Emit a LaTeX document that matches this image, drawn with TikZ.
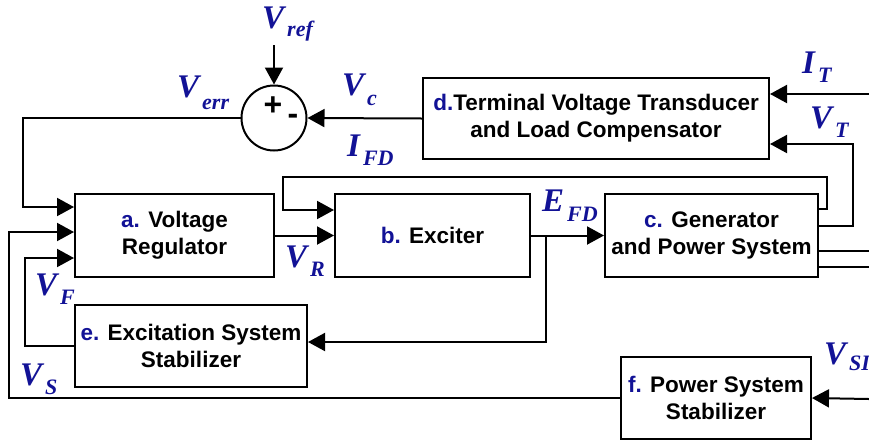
\documentclass[tikz,border=0pt]{standalone}
\usepackage{fontspec}
\newfontfamily\boxfont{Liberation Sans}
\newfontfamily\lblfont{Liberation Serif}
\usetikzlibrary{arrows.meta, positioning}
\definecolor{lblblue}{RGB}{18,18,150}
% big letter with lowered subscript
\newcommand{\sigl}[3][9pt]{{\fontsize{33}{33}\selectfont #2}\kern3pt\raisebox{-#1}{\fontsize{22}{22}\selectfont #3}}
\tikzset{
  block/.style={draw, line width=2pt, align=center, inner sep=2pt,
    font=\boxfont\bfseries\fontsize{22.5}{27}\selectfont},
  sig/.style={line width=2pt, -{Triangle[length=17pt,width=18pt]}},
  wire/.style={line width=2pt},
  siglbl/.style={anchor=base west, inner sep=0pt, text=lblblue,
    font=\lblfont\bfseries\itshape},
}
\begin{document}
\begin{tikzpicture}[x=1pt, y=-1pt]
  \useasboundingbox (0,0) rectangle (869,445);
  % Blocks
  \node[block, minimum width=199pt, minimum height=83pt] (reg) at (174.5,235.5)
    {\textcolor{lblblue}{a.} Voltage\\Regulator};
  \node[block, minimum width=195pt, minimum height=83pt] (exc) at (432.5,235.5)
    {\textcolor{lblblue}{b.} Exciter};
  \node[block, minimum width=213pt, minimum height=83pt] (gen) at (711.5,235.5)
    {\textcolor{lblblue}{c.} Generator\\and Power System};
  \node[block, minimum width=346pt, minimum height=81pt] (tvt) at (596,118.5)
    {\textcolor{lblblue}{d.}Terminal Voltage Transducer\\and Load Compensator};
  \node[block, minimum width=232pt, minimum height=82pt] (ess) at (191,346)
    {\textcolor{lblblue}{e.} Excitation System\\Stabilizer};
  \node[block, minimum width=190pt, minimum height=82pt] (pss) at (716,398)
    {\textcolor{lblblue}{f.} Power System\\Stabilizer};
  % Summing junction
  \node[draw, circle, line width=2pt, minimum size=65pt, inner sep=0pt] (sum) at (274,118) {};
  \node[inner sep=0pt, font=\boxfont\bfseries\fontsize{32}{32}\selectfont] (plus) at (273,106) {+};
  \node[inner sep=0pt, font=\boxfont\bfseries\fontsize{32}{32}\selectfont] (minus) at (293,119) {-};
  % Free ends
  \coordinate (refIn) at (274,45);
  \coordinate (itIn) at (869,94);
  \coordinate (vsiIn) at (869,399);
  \coordinate (ifdR) at (827,177);
  \coordinate (ifdL) at (283,177);
  \coordinate (efdTap) at (546,235.5);
  % Connectors
  \draw[sig] (refIn) -- (sum.north);
  \draw[sig] (tvt.west) -- (sum.east);
  \draw[sig] (sum.west) -| ([xshift=-51pt,yshift=28.5pt]reg.west) -- ([yshift=28.5pt]reg.west);
  \draw[sig] (pss.west) -| ([xshift=-65pt,yshift=3.5pt]reg.west) -- ([yshift=3.5pt]reg.west);
  \draw[sig] (ess.west) -| ([xshift=-49pt,yshift=-22.5pt]reg.west) -- ([yshift=-22.5pt]reg.west);
  \draw[sig] (reg.east) -- (exc.west);
  \draw[sig] ([yshift=26.5pt]gen.east) -| (ifdR) -- (ifdL) |- ([yshift=25.5pt]exc.west);
  \draw[sig] (exc.east) -- (gen.west);
  \draw[sig] (efdTap) |- ([yshift=4pt]ess.east);
  \draw[sig] ([yshift=9.5pt]gen.east) -| ([xshift=83pt,yshift=-25.5pt]tvt.east) -- ([yshift=-25.5pt]tvt.east);
  \draw[sig] (itIn) -- ([yshift=24.5pt]tvt.east);
  \draw[wire] ([yshift=-15.5pt]gen.east) -- ++(51,0);
  \draw[wire] ([yshift=-31.5pt]gen.east) -- ++(51,0);
  \draw[sig] (vsiIn) -- (pss.east);
  % Signal labels
  \node[siglbl] (lref) at (262,28) {\sigl[8pt]{V}{ref}};
  \node[siglbl] (lerr) at (177,97) {\sigl[12pt]{V}{err}};
  \node[siglbl] (lc) at (342,95) {\sigl[10pt]{V}{c}};
  \node[siglbl] (lifd) at (347,156) {\sigl{I}{FD}};
  \node[siglbl] (lit) at (802,73) {\sigl{I}{T}};
  \node[siglbl] (lvt) at (810,128) {\sigl{V}{T}};
  \node[siglbl] (lefd) at (542,211) {\sigl[10pt]{E}{FD}};
  \node[siglbl] (lvr) at (285,267) {\sigl{V}{R}};
  \node[siglbl] (lvf) at (35,295) {\sigl{V}{F}};
  \node[siglbl] (lvs) at (20,385) {\sigl{V}{S}};
  \node[siglbl] (lvsi) at (824,364) {\sigl[6pt]{V}{SI}};
\end{tikzpicture}
\end{document}
